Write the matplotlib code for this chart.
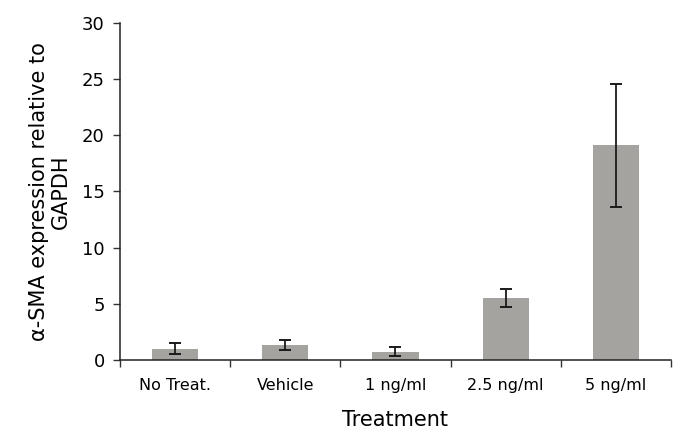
import matplotlib
matplotlib.use("Agg")
import matplotlib.pyplot as plt
import numpy as np

# data
treatments = ["No Treat.", "Vehicle", "1 ng/ml", "2.5 ng/ml", "5 ng/ml"]
sma_expr = [1.0, 1.3, 0.75, 5.5, 19.1]
sma_err = [0.48, 0.45, 0.4, 0.8, 5.45]
yticks = [0, 5, 10, 15, 20, 25, 30]

fig = plt.figure(figsize=(6.76, 4.42), dpi=100)
ax = fig.add_axes([0.1775, 0.1855, 0.815, 0.7625])

x = np.arange(len(treatments))
ax.bar(x, sma_expr, width=0.42, color="#a4a39f", edgecolor="none",
       yerr=sma_err, capsize=4.5,
       error_kw=dict(ecolor="#1a1a1a", elinewidth=1.3, capthick=1.4))

ax.set_xlim(-0.5, len(treatments) - 0.5)
ax.set_ylim(0, 30)
ax.set_yticks(yticks)

# Excel-style: ticks between categories, labels centred on bars
ax.set_xticks(np.arange(-0.5, len(treatments)), labels=[""] * (len(treatments) + 1))
ax.set_xticks(x, labels=treatments, minor=True)
ax.tick_params(axis="x", which="major", direction="out", length=5, width=1, color="#333333")
ax.tick_params(axis="x", which="minor", length=0, pad=13, labelsize=11.5)
ax.tick_params(axis="y", direction="out", length=5, width=1, color="#333333",
               labelsize=13, pad=6)

for s in ["top", "right"]:
    ax.spines[s].set_visible(False)
for s in ["left", "bottom"]:
    ax.spines[s].set_color("#222222")
    ax.spines[s].set_linewidth(1.1)

ax.set_ylabel("α-SMA expression relative to\nGAPDH", fontsize=15, labelpad=8,
              linespacing=1.1)
ax.set_xlabel("Treatment", fontsize=15, labelpad=12)

fig.savefig("out.png", dpi=100)
